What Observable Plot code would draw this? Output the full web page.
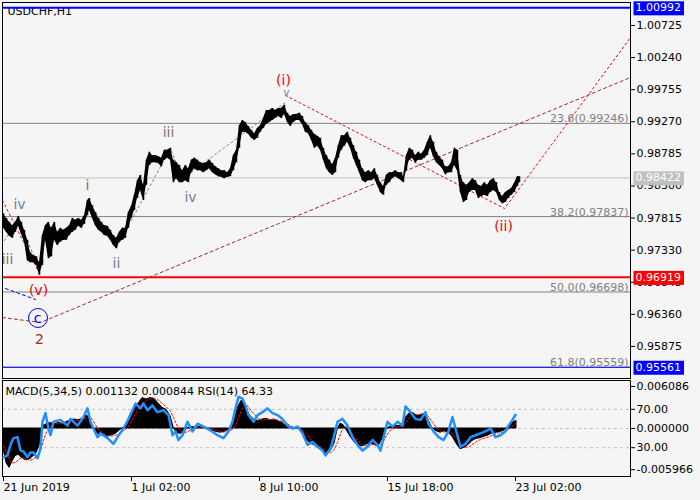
<!DOCTYPE html>
<html>
<head>
<meta charset="utf-8">
<script src="https://cdn.jsdelivr.net/npm/d3@7"></script>
<script src="https://cdn.jsdelivr.net/npm/@observablehq/plot@0.6"></script>
<style>
html, body { margin: 0; padding: 0; background: #f5f5f5; }
#chart { position: relative; width: 700px; height: 500px; overflow: hidden; background: #f5f5f5; }
#chart svg { position: absolute; left: 0; max-width: none; }
</style>
</head>
<body>
<div id="chart"></div>
<script>
// ---------------- DATA ----------------
const symbol = "USDCHF,H1";
const indicatorTitle = "MACD(5,34,5) 0.001132 0.000844 RSI(14) 64.33";

// x axis: one H1 bar per pixel column; tick bars and labels
const timeTickBars = [0, 128, 256, 384, 512];
const timeTickLabels = ["21 Jun 2019", "1 Jul 02:00", "8 Jul 10:00", "15 Jul 18:00", "23 Jul 02:00"];
const barDomain = [0, 628];

// price axis
const priceDomain = [0.953906, 1.010721];
const priceTicks = [1.00725, 1.00240, 0.99755, 0.99270, 0.98785, 0.98300, 0.97815, 0.97330, 0.96845, 0.96360, 0.95875];

// price path: [bar, low, high]
const priceRows = [
[1,0.9766,0.9788],[4,0.9760,0.9781],[7,0.9754,0.9775],[10,0.9751,0.9770],[13,0.9760,0.9775],[16,0.9769,0.9784],
[19,0.9757,0.9775],[22,0.9745,0.9763],[25,0.9717,0.9748],[28,0.9714,0.9729],[31,0.9714,0.9725],[34,0.9710,0.9723],
[37,0.9695,0.9714],[40,0.9710,0.9755],[43,0.9748,0.9770],[46,0.9720,0.9775],[49,0.9723,0.9766],[52,0.9748,0.9775],
[55,0.9740,0.9760],[58,0.9745,0.9766],[61,0.9748,0.9763],[64,0.9748,0.9766],[67,0.9755,0.9770],[70,0.9760,0.9781],
[73,0.9763,0.9778],[76,0.9769,0.9781],[79,0.9766,0.9778],[82,0.9772,0.9785],[85,0.9785,0.9808],[87,0.9793,0.9811],
[90,0.9781,0.9800],[93,0.9770,0.9790],[96,0.9763,0.9781],[99,0.9760,0.9775],[102,0.9755,0.9770],[105,0.9754,0.9769],
[108,0.9748,0.9763],[111,0.9740,0.9755],[114,0.9735,0.9751],[117,0.9745,0.9760],[120,0.9748,0.9766],[123,0.9751,0.9766],
[126,0.9766,0.9790],[129,0.9781,0.9799],[132,0.9793,0.9816],[135,0.9811,0.9838],[138,0.9823,0.9846],[141,0.9808,0.9831],
[144,0.9831,0.9869],[147,0.9861,0.9881],[150,0.9865,0.9876],[153,0.9865,0.9876],[156,0.9864,0.9874],[159,0.9859,0.9872],
[162,0.9869,0.9884],[165,0.9872,0.9884],[168,0.9869,0.9887],[171,0.9835,0.9869],[174,0.9841,0.9865],[177,0.9835,0.9861],
[180,0.9835,0.9853],[183,0.9838,0.9861],[186,0.9835,0.9856],[189,0.9850,0.9869],[192,0.9856,0.9872],[195,0.9853,0.9869],
[198,0.9853,0.9865],[201,0.9850,0.9864],[204,0.9853,0.9865],[207,0.9856,0.9869],[210,0.9850,0.9864],[213,0.9847,0.9859],
[216,0.9844,0.9856],[219,0.9843,0.9853],[222,0.9841,0.9853],[225,0.9843,0.9850],[228,0.9844,0.9856],[231,0.9853,0.9876],
[234,0.9865,0.9884],[237,0.9887,0.9921],[240,0.9911,0.9929],[243,0.9911,0.9926],[246,0.9908,0.9920],[249,0.9902,0.9914],
[252,0.9899,0.9909],[255,0.9902,0.9917],[258,0.9911,0.9921],[261,0.9917,0.9932],[264,0.9923,0.9944],[267,0.9926,0.9944],
[270,0.9929,0.9947],[273,0.9932,0.9944],[276,0.9935,0.9947],[279,0.9932,0.9947],[282,0.9938,0.9952],[285,0.9926,0.9940],
[288,0.9920,0.9935],[291,0.9926,0.9938],[294,0.9929,0.9938],[297,0.9929,0.9940],[300,0.9923,0.9935],[303,0.9911,0.9926],
[306,0.9909,0.9921],[309,0.9899,0.9914],[312,0.9887,0.9908],[315,0.9890,0.9905],[318,0.9884,0.9902],[321,0.9869,0.9887],
[324,0.9856,0.9876],[327,0.9850,0.9869],[330,0.9846,0.9862],[333,0.9850,0.9872],[336,0.9872,0.9891],[339,0.9884,0.9906],
[342,0.9890,0.9906],[345,0.9896,0.9911],[348,0.9887,0.9902],[351,0.9872,0.9891],[354,0.9861,0.9881],[357,0.9850,0.9869],
[360,0.9838,0.9856],[363,0.9835,0.9850],[366,0.9838,0.9853],[369,0.9838,0.9850],[372,0.9841,0.9856],[375,0.9831,0.9846],
[378,0.9820,0.9835],[381,0.9816,0.9829],[384,0.9831,0.9846],[387,0.9835,0.9850],[390,0.9841,0.9850],[393,0.9844,0.9853],
[396,0.9841,0.9850],[399,0.9838,0.9850],[401,0.9835,0.9844],[404,0.9853,0.9876],[407,0.9869,0.9887],[410,0.9872,0.9884],
[413,0.9865,0.9876],[416,0.9869,0.9881],[419,0.9869,0.9878],[422,0.9872,0.9884],[425,0.9876,0.9896],[428,0.9887,0.9906],
[431,0.9874,0.9896],[434,0.9865,0.9881],[437,0.9861,0.9874],[440,0.9856,0.9869],[443,0.9847,0.9859],[446,0.9850,0.9859],
[449,0.9850,0.9865],[452,0.9861,0.9887],[455,0.9853,0.9884],[458,0.9820,0.9846],[461,0.9805,0.9835],[464,0.9808,0.9831],
[467,0.9820,0.9835],[470,0.9823,0.9841],[473,0.9823,0.9838],[476,0.9811,0.9831],[479,0.9814,0.9829],[482,0.9816,0.9835],
[485,0.9814,0.9831],[488,0.9820,0.9838],[491,0.9823,0.9841],[494,0.9820,0.9835],[497,0.9808,0.9820],[500,0.9803,0.9814],
[503,0.9805,0.9820],[506,0.9811,0.9823],[509,0.9816,0.9826],[512,0.9820,0.9834],[515,0.9829,0.9844],[517,0.9835,0.9844]
];

// horizontal levels
const fibPct = ["23.6", "38.2", "50.0", "61.8"];
const fibLevels = [0.99246, 0.97837, 0.96698, 0.95559];
const bidLevel = 0.98422;
const redLevel = 0.96919;
const blueTopLevel = 1.00992;
const blueBottomLevel = 0.95561;
const priceTags = [1.00992, 0.98422, 0.96919, 0.95561];
const priceTagColors = ["#0000ff", "#c0c0c0", "#ff0000", "#0000ff"];

// wave lines: [series, bar, price]
const redWaveLines = [
["r1", 0, 0.9808], ["r1", 38, 0.9695],
["r2", 283, 0.99667], ["r2", 502, 0.97959], ["r2", 628, 1.00543]
];
const brownWaveLine = [[0, 0.96312], [38, 0.96237], [628, 0.99939]];
const blueWaveLine = [[3, 0.96750], [33, 0.96584]];
const greyWaveLines = [
["g1", 2, 0.97476], ["g1", 16, 0.97808], ["g1", 38, 0.96992],
["g2", 86, 0.98080], ["g2", 114, 0.97370], ["g2", 168, 0.98866], ["g2", 180, 0.98413], ["g2", 283, 0.99561]
];

// wave labels: [text, bar, price, color]
const waveLabels = [
["iii", 5, 0.97189, "#8b6f6f"], ["iv", 17, 0.98020, "#6f8299"], ["(v)", 36, 0.96720, "#ff0000"],
["c", 35, 0.96297, "#0000ff"], ["2", 37, 0.95980, "#a52a2a"],
["i", 85, 0.98307, "#8b6f6f"], ["ii", 114, 0.97128, "#6f8299"], ["iii", 166, 0.99107, "#8b6f6f"],
["iv", 188, 0.98125, "#6f8299"], ["(i)", 281, 0.99893, "#ff0000"], ["(ii)", 501, 0.97687, "#ff0000"]
];
const waveMarkers = [["v", 284, 0.99705]];
const circledLabel = [[35.5, 0.96305]];

// MACD rows: [bar, macd, signal]
const macdRows = [
[1,-0.0030,-0.0025],[4,-0.0050,-0.0035],[7,-0.0057,-0.0045],[10,-0.0048,-0.0050],[13,-0.0040,-0.0049],[16,-0.0038,-0.0045],
[19,-0.0042,-0.0042],[22,-0.0045,-0.0043],[25,-0.0046,-0.0045],[28,-0.0044,-0.0046],[31,-0.0040,-0.0044],[34,-0.0036,-0.0041],
[37,-0.0025,-0.0035],[39,-0.0005,-0.0027],[41,0.0004,-0.0017],[44,0.0006,-0.0005],[48,0.0008,0.0004],[52,0.0006,0.0007],
[56,0.0008,0.0007],[60,0.0007,0.0007],[64,0.0009,0.0008],[68,0.0012,0.0009],[72,0.0013,0.0011],[76,0.0012,0.0012],
[80,0.0014,0.0013],[84,0.0019,0.0015],[87,0.0016,0.0017],[90,0.0002,0.0013],[93,-0.0006,0.0005],[97,-0.0009,-0.0003],
[101,-0.0011,-0.0008],[105,-0.0012,-0.0010],[109,-0.0010,-0.0011],[113,-0.0008,-0.0010],[117,-0.0003,-0.0007],[121,0.0001,-0.0003],
[125,0.0006,0.0001],[128,0.0020,0.0008],[131,0.0028,0.0016],[134,0.0032,0.0024],[137,0.0038,0.0031],[140,0.0044,0.0037],
[144,0.0042,0.0041],[148,0.0044,0.0043],[152,0.0043,0.0043],[156,0.0036,0.0041],[160,0.0030,0.0036],[164,0.0027,0.0031],
[168,0.0018,0.0025],[171,0.0002,0.0016],[174,-0.0006,0.0006],[178,-0.0008,-0.0003],[182,-0.0004,-0.0006],[186,0.0001,-0.0004],
[190,0.0002,-0.0001],[194,0.0001,0.0001],[198,0.0003,0.0002],[202,0.0002,0.0002],[206,-0.0001,0.0001],[210,-0.0003,-0.0001],
[214,-0.0005,-0.0003],[218,-0.0006,-0.0005],[222,-0.0005,-0.0005],[226,-0.0002,-0.0004],[230,0.0002,-0.0001],[233,0.0018,0.0005],
[236,0.0032,0.0015],[239,0.0040,0.0027],[242,0.0036,0.0034],[245,0.0024,0.0033],[248,0.0018,0.0027],[252,0.0012,0.0020],
[256,0.0011,0.0014],[260,0.0013,0.0012],[264,0.0014,0.0013],[268,0.0012,0.0013],[272,0.0013,0.0013],[276,0.0010,0.0012],
[280,0.0008,0.0010],[284,0.0003,0.0007],[288,0.0001,0.0004],[292,-0.0001,0.0001],[296,0.0000,0.0000],[300,-0.0006,-0.0002],
[304,-0.0016,-0.0008],[308,-0.0022,-0.0015],[312,-0.0024,-0.0021],[316,-0.0028,-0.0025],[320,-0.0032,-0.0028],[324,-0.0038,-0.0033],
[328,-0.0033,-0.0035],[332,-0.0022,-0.0030],[335,-0.0002,-0.0020],[338,0.0007,-0.0008],[341,0.0005,0.0002],[344,-0.0002,0.0003],
[348,-0.0012,-0.0004],[352,-0.0020,-0.0012],[356,-0.0025,-0.0019],[360,-0.0026,-0.0024],[364,-0.0023,-0.0025],[368,-0.0022,-0.0024],
[372,-0.0024,-0.0023],[376,-0.0026,-0.0024],[380,-0.0015,-0.0021],[383,-0.0003,-0.0013],[387,0.0002,-0.0004],[391,0.0003,0.0001],
[395,0.0004,0.0003],[399,0.0003,0.0003],[403,0.0015,0.0008],[407,0.0022,0.0016],[411,0.0022,0.0020],[415,0.0018,0.0020],
[419,0.0020,0.0020],[423,0.0021,0.0020],[426,0.0012,0.0017],[430,0.0000,0.0009],[434,-0.0004,0.0001],[438,-0.0006,-0.0004],
[442,-0.0004,-0.0005],[446,-0.0006,-0.0005],[450,-0.0012,-0.0008],[454,-0.0022,-0.0014],[458,-0.0030,-0.0022],[462,-0.0028,-0.0027],
[466,-0.0024,-0.0027],[470,-0.0018,-0.0023],[474,-0.0015,-0.0019],[478,-0.0014,-0.0016],[482,-0.0012,-0.0014],[486,-0.0010,-0.0012],
[490,-0.0007,-0.0010],[494,-0.0006,-0.0007],[498,-0.0005,-0.0006],[502,-0.0003,-0.0005],[506,0.0002,-0.0001],[510,0.0008,0.0004],
[514,0.001132,0.000844]
];
const macdDomain = [-0.00695, 0.00695];
const macdTicks = [0.006086, 0, -0.005966];

// RSI rows: [bar, rsi]
const rsiRows = [
[1,20],[5,22],[8,33],[11,40],[15,41],[18,27],[21,26],[25,20],[28,25],[31,25],[35,19],[38,29],[40,57],[43,66],[46,50],
[48,43],[51,57],[58,59],[65,53],[68,60],[71,57],[75,53],[81,62],[85,71],[88,57],[91,50],[95,41],[98,45],[105,40],[111,34],
[115,41],[121,50],[126,60],[130,69],[133,76],[138,71],[141,76],[145,69],[150,74],[155,67],[161,69],[166,64],[170,43],[173,47],
[176,38],[180,43],[185,57],[190,47],[195,55],[201,52],[208,48],[215,43],[221,40],[226,47],[230,57],[233,71],[236,83],[240,81],
[243,74],[246,64],[251,57],[255,64],[260,67],[265,71],[270,66],[275,64],[280,60],[285,53],[290,50],[295,52],[300,45],[305,33],
[310,36],[315,31],[320,27],[323,22],[328,29],[331,40],[335,57],[340,60],[345,53],[350,41],[355,33],[360,27],[365,31],[370,38],
[375,33],[378,27],[381,40],[385,57],[390,52],[395,57],[400,53],[403,73],[408,67],[413,60],[418,59],[423,67],[426,55],[431,47],
[436,41],[441,38],[446,47],[450,62],[453,50],[458,31],[463,34],[468,41],[473,43],[478,45],[483,47],[488,50],[493,41],[498,43],
[503,47],[506,53],[510,59],[513,64.33]
];
const rsiLevels = [70, 50, 30];
const rsiTicks = [70, 30];

// ---------------- RENDER ----------------
const chart = document.getElementById("chart");
const FONT = "DejaVu Sans";
const baseStyle = {background: "transparent", fontFamily: FONT, fontSize: "11px", color: "black", overflow: "visible"};

function place(svg, top) {
  svg.style.top = top + "px";
  chart.appendChild(svg);
  return svg;
}

function boxTags(svg, labels, colors) {
  const texts = Array.from(svg.querySelectorAll("text")).filter(t => labels.includes(t.textContent) && t.closest("g[aria-label='text']"));
  labels.forEach((lab, i) => {
    const cands = texts.filter(t => t.textContent === lab);
    if (!cands.length) return;
    const t = cands[cands.length - 1];
    const b = t.getBBox();
    const r = document.createElementNS("http://www.w3.org/2000/svg", "rect");
    r.setAttribute("x", b.x - 2);
    r.setAttribute("y", b.y);
    r.setAttribute("width", b.width + 5);
    r.setAttribute("height", b.height + 1);
    r.setAttribute("fill", colors[i]);
    r.setAttribute("stroke", "none");
    const tr = t.getAttribute("transform");
    if (tr) r.setAttribute("transform", tr);
    t.parentNode.insertBefore(r, t);
  });
}

const mainSvg = Plot.plot({
  width: 700, height: 380,
  marginLeft: 2, marginRight: 70, marginTop: 2, marginBottom: 2,
  style: baseStyle,
  x: {domain: barDomain, axis: null},
  y: {domain: priceDomain, axis: null},
  marks: [
    Plot.text([symbol], {frameAnchor: "top-left", dx: 5, dy: 9, textAnchor: "start", lineAnchor: "middle", fill: "black", fontSize: 11}),
    Plot.ruleY(fibLevels, {y: d => d, stroke: "#808080", strokeWidth: 1}),
    Plot.ruleY([bidLevel], {y: d => d, stroke: "#c0c0c0", strokeWidth: 1}),
    Plot.text(fibLevels, {y: d => d, text: (d, i) => `${fibPct[i]}(${d.toFixed(5)})`, frameAnchor: "right", textAnchor: "end", lineAnchor: "bottom", dx: -2, dy: -1, fill: "#808080", fontSize: 11}),
    Plot.line(greyWaveLines, {x: d => d[1], y: d => d[2], z: d => d[0], stroke: "#808080", strokeWidth: 1, strokeDasharray: "2,3"}),
    Plot.line(redWaveLines, {x: d => d[1], y: d => d[2], z: d => d[0], stroke: "#ff0000", strokeWidth: 1, strokeDasharray: "2,3"}),
    Plot.line(brownWaveLine, {x: d => d[0], y: d => d[1], stroke: "#a52a2a", strokeWidth: 1, strokeDasharray: "3,3"}),
    Plot.line(blueWaveLine, {x: d => d[0], y: d => d[1], stroke: "#0000ff", strokeWidth: 1, strokeDasharray: "3,3"}),
    Plot.areaY(priceRows, {x: d => d[0], y1: d => d[1], y2: d => d[2], fill: "black"}),
    Plot.ruleX(priceRows, {x: d => d[0], y1: d => d[1], y2: d => d[2], stroke: "black", strokeWidth: 1.5}),
    Plot.ruleY([redLevel], {y: d => d, stroke: "#ff0000", strokeWidth: 2}),
    Plot.ruleY([blueTopLevel], {y: d => d, stroke: "#0000ff", strokeWidth: 2}),
    Plot.ruleY([blueBottomLevel], {y: d => d, stroke: "#0000ff", strokeWidth: 1}),
    Plot.dot(circledLabel, {x: d => d[0], y: d => d[1], r: 9.5, stroke: "#0000ff", fill: "none", strokeWidth: 1}),
    Plot.text(waveMarkers, {x: d => d[1], y: d => d[2], text: d => d[0], fill: "#6f8299", fontSize: 10, lineAnchor: "middle", textAnchor: "middle"}),
    Plot.text(waveLabels, {x: d => d[1], y: d => d[2], text: d => d[0], fill: d => d[3], fontSize: 14, lineAnchor: "middle", textAnchor: "middle"}),
    Plot.frame({stroke: "black", strokeWidth: 1}),
    Plot.axisY({anchor: "right", ticks: priceTicks, tickSize: 4, tickPadding: 2, tickFormat: d => d.toFixed(5), label: null, fontSize: 11, fill: "black", stroke: "black"}),
    Plot.text(priceTags, {y: d => d, text: d => d.toFixed(5), frameAnchor: "right", dx: 5, textAnchor: "start", lineAnchor: "middle", fill: "white", fontSize: 11})
  ]
});
place(mainSvg, 0);
boxTags(mainSvg, priceTags.map(d => d.toFixed(5)), priceTagColors);

const subCommon = {
  width: 700, height: 122,
  marginLeft: 2, marginRight: 70, marginTop: 2, marginBottom: 24,
  style: baseStyle,
  x: {domain: barDomain, axis: null}
};

// layer 1: RSI grid, frame, axes
const gridSvg = Plot.plot({
  ...subCommon,
  y: {domain: [0, 100], axis: null},
  marks: [
    Plot.ruleY(rsiLevels, {y: d => d, stroke: "#c0c0c0", strokeDasharray: "3,3", strokeWidth: 1}),
    Plot.frame({stroke: "black", strokeWidth: 1}),
    Plot.axisY({anchor: "right", ticks: rsiTicks, tickSize: 4, tickPadding: 2, tickFormat: d => d.toFixed(2), label: null, fontSize: 11, fill: "black", stroke: "black"}),
    Plot.axisX({anchor: "bottom", ticks: timeTickBars, tickSize: 5, tickPadding: 2, tickFormat: d => timeTickLabels[timeTickBars.indexOf(d)], textAnchor: "start", dx: 1, label: null, fontSize: 11, fill: "black", stroke: "black"})
  ]
});
place(gridSvg, 378);

// layer 2: MACD histogram + signal
const macdSvg = Plot.plot({
  ...subCommon,
  y: {domain: macdDomain, axis: null},
  marks: [
    Plot.areaY(macdRows, {x: d => d[0], y1: 0, y2: d => d[1], fill: "black", stroke: "black", strokeWidth: 1}),
    Plot.line(macdRows, {x: d => d[0], y: d => d[2], stroke: "#ff0000", strokeWidth: 1, strokeDasharray: "2,2"}),
    Plot.axisY({anchor: "right", ticks: macdTicks, tickSize: 4, tickPadding: 2, tickFormat: d => d.toFixed(6), label: null, fontSize: 11, fill: "black", stroke: "black"}),
    Plot.text([indicatorTitle], {frameAnchor: "top-left", dx: 3, dy: 11, textAnchor: "start", lineAnchor: "middle", fill: "black", fontSize: 11})
  ]
});
place(macdSvg, 378);

// layer 3: RSI line
const rsiSvg = Plot.plot({
  ...subCommon,
  y: {domain: [0, 100], axis: null},
  marks: [
    Plot.line(rsiRows, {x: d => d[0], y: d => d[1], stroke: "#1e90ff", strokeWidth: 2.5})
  ]
});
place(rsiSvg, 378);
</script>
</body>
</html>
